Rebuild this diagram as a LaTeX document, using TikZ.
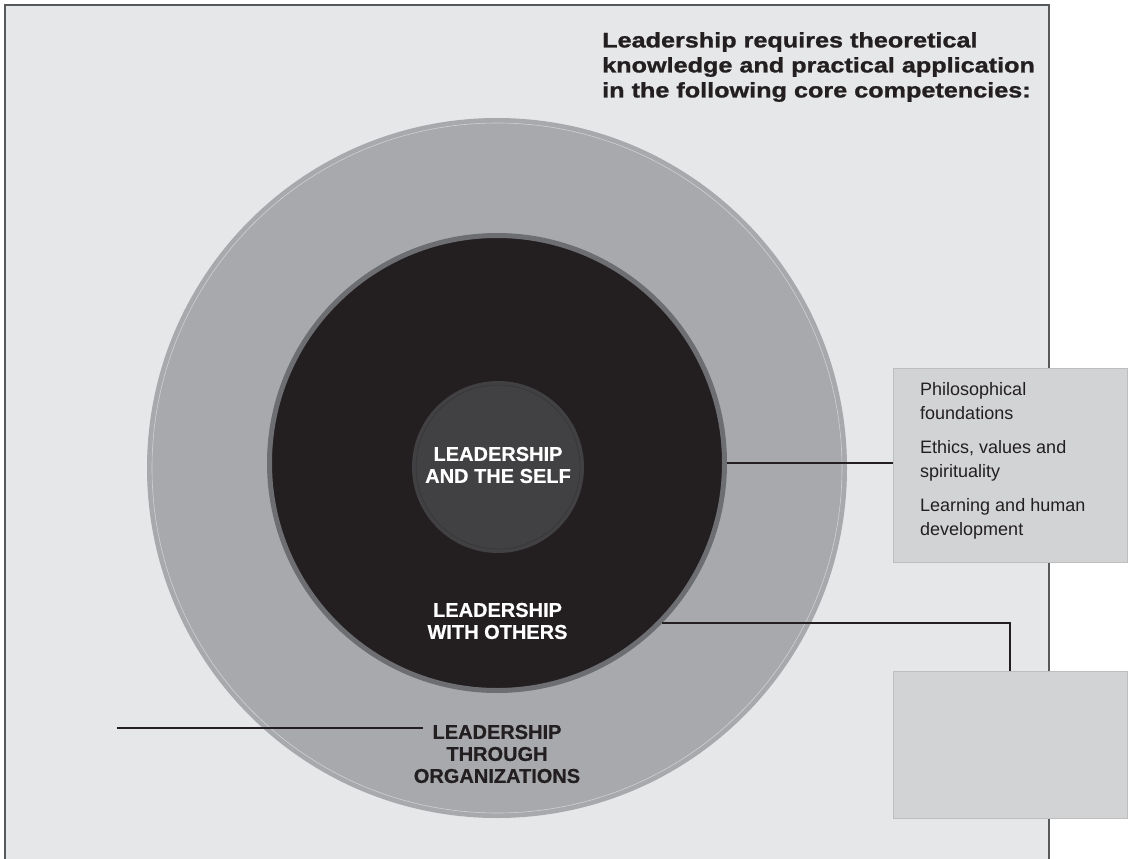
\documentclass[tikz,border=0pt]{standalone}
\usepackage{fontspec}
\setmainfont{Liberation Sans}
\newfontfamily\headfont[FakeStretch=1.2,FakeBold=1.2]{Liberation Sans Bold}
\newfontfamily\capsfont[FakeBold=0.5]{Liberation Sans Bold}
\usepackage{tikz}
\usetikzlibrary{positioning}

\definecolor{panelgray}{HTML}{E6E7E8}
\definecolor{paneledge}{HTML}{58595B}
\definecolor{outergray}{HTML}{A7A9AC}
\definecolor{ringgray}{HTML}{6D6E71}
\definecolor{selfgray}{HTML}{414042}
\definecolor{ink}{HTML}{231F20}
\definecolor{boxgray}{HTML}{D1D3D4}
\definecolor{boxedge}{HTML}{BCBEC0}

\begin{document}
\begin{tikzpicture}[x=1pt, y=-1pt,
  ring/.style={circle, inner sep=0pt, minimum size=#1},
  ringlabel/.style={font=\capsfont\fontsize{20}{22}\selectfont, align=center, inner sep=0pt},
  listbox/.style={draw=boxedge, fill=boxgray, line width=0.8pt, minimum width=234pt, minimum height=#1, inner sep=0pt},
  link/.style={draw=ink, line width=2pt}]
  \useasboundingbox (0,0) rectangle (1135,859);
  % Panel
  \fill[panelgray] (5,5) rectangle (1049,859);
  \draw[paneledge, line width=1.8pt] (5,870) -- (5,5) -- (1049,5) -- (1049,870);
  % Title
  \node[anchor=north west, inner sep=0pt, align=left, text=ink,
        font=\headfont\fontsize{21}{25}\selectfont] (title) at (602,32)
    {Leadership requires theoretical\\knowledge and practical application\\in the following core competencies:};
  % Circles
  \node[ring=700pt, fill=outergray] (orgs) at (497,468) {};
  \draw[white!45!outergray, line width=0.6pt] (orgs.center) circle[radius=345];
  \node[ring=455pt, fill=ink, draw=ringgray, line width=5pt] (others) at (497,463) {};
  \node[ring=172pt, fill=selfgray] (self) at (498,467) {};
  \draw[black!20!selfgray, line width=0.5pt] (self.center) circle[radius=82];
  % Labels
  \node[ringlabel, text=white] (selflabel) at (498,465) {LEADERSHIP\\AND THE SELF};
  \node[ringlabel, text=white] (otherslabel) at (497.5,621) {LEADERSHIP\\WITH OTHERS};
  \node[ringlabel, text=ink] (orgslabel) at (497,754) {LEADERSHIP\\THROUGH\\ORGANIZATIONS};
  % Boxes
  \node[listbox=194pt] (found) at (1010,465) {};
  \node[anchor=north west, inner sep=0pt, align=left, text=ink,
        font=\fontsize{18}{24}\selectfont] (foundtext) at (920,382)
    {Philosophical\\foundations\\[10pt]Ethics, values and\\spirituality\\[10pt]Learning and human\\development};
  \node[listbox=147pt] (empty) at (1010,744.5) {};
  % Connectors
  \draw[link] (others.east) -- (others.east -| found.west);
  \draw[link] (others.-44) -| (empty.north);
  \coordinate (lead) at (117,728);
  \coordinate (leadend) at ([xshift=9pt]orgslabel.west);
  \draw[link] (lead) -- (lead -| leadend);
\end{tikzpicture}
\end{document}
